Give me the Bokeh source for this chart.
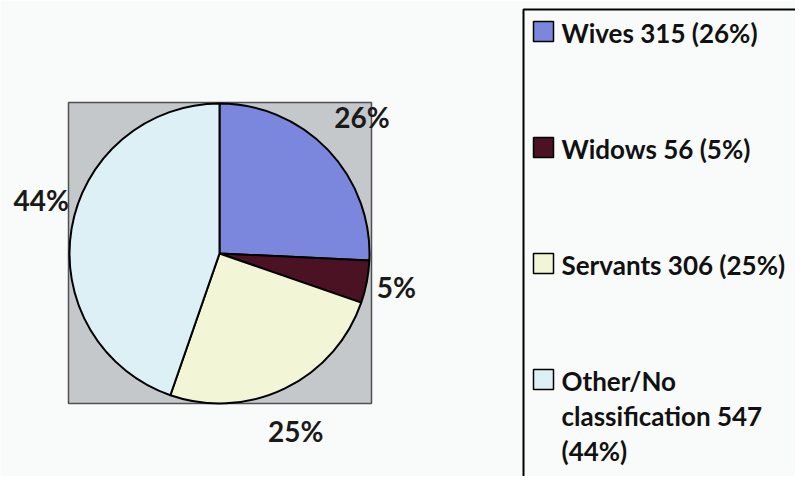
import numpy as np
from bokeh.plotting import figure
from bokeh.models import Range1d, ColumnDataSource
from bokeh.core.properties import value
from bokeh.embed import file_html
from bokeh.resources import INLINE

# ---- data ----
categories = ["Wives", "Widows", "Servants", "Other/No classification"]
counts = [315, 56, 306, 547]
pct_labels = ["26%", "5%", "25%", "44%"]
legend_labels = ["Wives 315 (26%)", "Widows 56 (5%)", "Servants 306 (25%)",
                 "Other/No\nclassification 547\n(44%)"]

# ---- style ----
colors = ["#7b87dc", "#4a1222", "#f2f5d6", "#dcf0f6"]
BG = "#f9fbfb"
FONT = "Lato"
W, H = 795, 476

def py(y):  # picture y -> data y
    return 492 - y

p = figure(width=W, height=H, x_range=Range1d(0, W), y_range=Range1d(492 - H, 492),
           output_backend="svg", toolbar_location=None, min_border=0)
p.axis.visible = False
p.grid.visible = False
p.outline_line_color = None
p.background_fill_color = BG
p.border_fill_color = BG

# plot area (gray square)
cx, cy, R = 219, py(253), 150
p.rect(x=219.5, y=py(252.5), width=303, height=301, fill_color="#c4c8cb",
       line_color="#505050", line_width=1.5)

# pie wedges, starting at 12 o'clock, clockwise
vals = np.array(counts, dtype=float)
frac = vals / vals.sum()
cum = np.concatenate([[0], np.cumsum(frac)])
start = np.pi / 2 - cum[:-1] * 2 * np.pi
end = np.pi / 2 - cum[1:] * 2 * np.pi
src = ColumnDataSource(dict(start=start, end=end, color=colors, cat=categories))
p.wedge(x=cx, y=cy, radius=R, start_angle="start", end_angle="end", direction="clock",
        fill_color="color", line_color="black", line_width=2, source=src)

# data labels outside the pie
mid = (start + end) / 2
lab_r = np.array([197, 180, 193, 186])
lab_da = np.radians([0, 0, -2.6, -7.0])
lx = cx + lab_r * np.cos(mid + lab_da)
ly = cy + lab_r * np.sin(mid + lab_da)
p.text(x=lx, y=ly, text=pct_labels, text_font=value(FONT), text_font_style="bold",
       text_font_size="28px", text_color="#1a1a1a", text_align="center",
       text_baseline="middle")

# legend box
p.quad(left=523, right=840, top=py(9), bottom=-20, fill_color=BG,
       line_color="black", line_width=2)
n = len(categories)
item_y = np.array([py(31 + 116 * i) for i in range(n)], dtype=float)
p.rect(x=543, y=item_y, width=20, height=20, fill_color=colors,
       line_color="black", line_width=1.5)
p.text(x=561, y=item_y + 15, text=legend_labels, text_font=value(FONT),
       text_font_style="bold", text_font_size="26px", text_color="#111111",
       text_align="left", text_baseline="top", text_line_height=1.1)

open("out.html", "w").write(file_html(p, INLINE))
